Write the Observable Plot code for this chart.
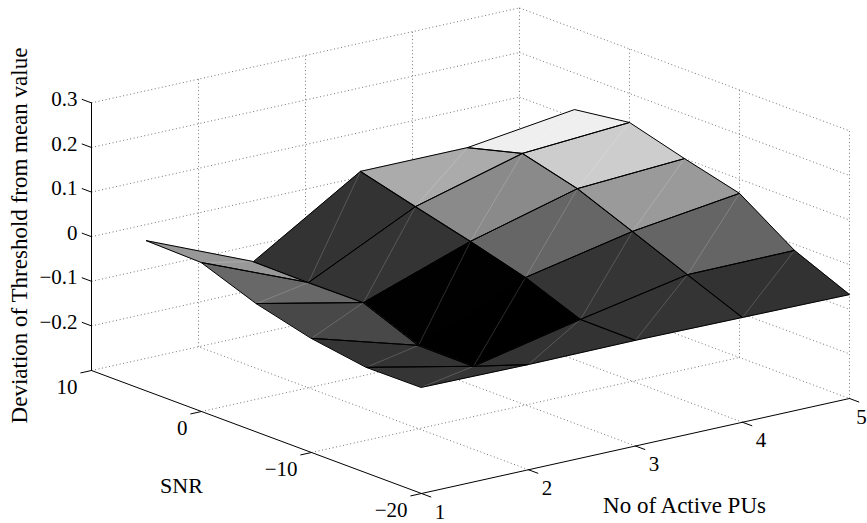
<!DOCTYPE html>
<html>
<head>
<meta charset="utf-8">
<style>html,body{margin:0;padding:0;background:#fff}svg{display:block}</style>
<script src="https://cdn.jsdelivr.net/npm/d3@7"></script>
<script src="https://cdn.jsdelivr.net/npm/@observablehq/plot@0.6"></script>
</head>
<body>
<div id="chart"></div>
<script>
// Axis values
const puCounts = [1, 2, 3, 4, 5];
const snrLevels = [-20, -15, -10, -5, 0, 5];
const xTicks = [1, 2, 3, 4, 5];
const yTicks = [10, 0, -10, -20];
const zTicks = [-0.2, -0.1, 0, 0.1, 0.2, 0.3];
const xTickLabels = ["1", "2", "3", "4", "5"];
const yTickLabels = ["10", "0", "−10", "−20"];
const zTickLabels = ["−0.2", "−0.1", "0", "0.1", "0.2", "0.3"];

// Deviation of threshold, one list per SNR level, values for PUs 1..5
const devSnrM20 = [-0.062, -0.064, -0.063, -0.065, -0.067];
const devSnrM15 = [-0.063, -0.114, -0.062, -0.015, -0.014];
const devSnrM10 = [-0.044, -0.113, -0.014, 0.036, 0.068];
const devSnrM5 = [-0.012, -0.063, 0.021, 0.086, 0.100];
const devSnr0 = [0.034, -0.064, 0.053, 0.119, 0.135];
const devSnr5 = [0.037, -0.063, 0.086, 0.086, 0.118];
const deviation = [devSnrM20, devSnrM15, devSnrM10, devSnrM5, devSnr0, devSnr5];

// Axis box of the 3D view
const xLim = [1, 5], yLim = [-20, 10], zLim = [-0.3, 0.3];

// Orthographic view: data (x, y, z) to the flat plane of the picture
function view(x, y, z) {
  return {
    u: 421 + 107 * (x - 1) - 11 * (y + 20),
    v: 493 - 23.75 * (x - 1) - 4.1 * (y + 20) - 446 * (z + 0.3)
  };
}
const seg = (id, a, b) => [{id, ...view(...a)}, {id, ...view(...b)}];

// Surface facets: colour comes from the facet's lowest x / lowest y corner
const facets = [], seams = [];
for (let j = snrLevels.length - 2; j >= 0; j--) {
  for (let i = puCounts.length - 2; i >= 0; i--) {
    const id = `${i}-${j}`;
    const c = deviation[j][i];
    const corner = (a, b) => ({id, c, ...view(puCounts[a], snrLevels[b], deviation[b][a])});
    facets.push(corner(i, j), corner(i + 1, j), corner(i + 1, j + 1), corner(i, j + 1));
    seams.push(corner(i, j), corner(i + 1, j + 1));
  }
}

// Dotted grid on the floor and two back walls
const grid = [];
const [x0, x1] = xLim, [y0, y1] = yLim, [z0, z1] = zLim;
for (const x of [2, 3, 4]) {
  grid.push(...seg(`fx${x}`, [x, y0, z0], [x, y1, z0]));
  grid.push(...seg(`wx${x}`, [x, y1, z0], [x, y1, z1]));
}
for (const y of [-10, 0]) {
  grid.push(...seg(`fy${y}`, [x0, y, z0], [x1, y, z0]));
  grid.push(...seg(`wy${y}`, [x1, y, z0], [x1, y, z1]));
}
zTicks.forEach(z => {
  grid.push(...seg(`za${z}`, [x0, y1, z], [x1, y1, z]));
  grid.push(...seg(`zb${z}`, [x1, y1, z], [x1, y0, z]));
});
grid.push(...seg("b1", [x0, y1, z0], [x1, y1, z0]));
grid.push(...seg("b2", [x1, y1, z0], [x1, y0, z0]));
grid.push(...seg("b3", [x1, y1, z0], [x1, y1, z1]));
grid.push(...seg("b4", [x1, y0, z0], [x1, y0, z1]));

// Solid axes and ticks
const axes = [
  ...seg("ax", [x0, y0, z0], [x1, y0, z0]),
  ...seg("ay", [x0, y0, z0], [x0, y1, z0]),
  ...seg("az", [x0, y1, z0], [x0, y1, z1])
];
xTicks.forEach(x => axes.push(...seg(`tx${x}`, [x, y0, z0], [x, y0 - 0.85, z0])));
yTicks.forEach(y => axes.push(...seg(`ty${y}`, [x0, y, z0], [x0 - 0.1, y, z0])));
zTicks.forEach(z => axes.push(...seg(`tz${z}`, [x0, y1, z], [x0, y1 + 0.85, z])));

// Text
const serif = {fontFamily: "'Liberation Serif','Times New Roman',serif", fill: "#000", lineAnchor: "bottom"};
const xTickText = xTicks.map((x, i) => {
  const p = view(x, y0, z0);
  return {t: xTickLabels[i], u: Math.min(p.u + 18.5, 861), v: p.v};
});
const yTickText = yTicks.map((y, i) => ({t: yTickLabels[i], ...view(x0, y, z0)}));
const zTickText = zTicks.map((z, i) => ({t: zTickLabels[i], ...view(x0, y1, z)}));

const chart = Plot.plot({
  width: 867, height: 523,
  margin: 0,
  style: {background: "#fff", overflow: "hidden"},
  x: {domain: [0, 867], range: [0, 867], axis: null},
  y: {domain: [0, 523], range: [0, 523], axis: null},
  color: {type: "linear", domain: [-0.114, 0.135], range: ["#000", "#fff"], legend: false},
  marks: [
    Plot.line(grid, {x: "u", y: "v", z: "id", stroke: "#666", strokeWidth: 0.9, strokeDasharray: "1,2.6", strokeLinecap: "butt"}),
    Plot.line(axes, {x: "u", y: "v", z: "id", stroke: "#000", strokeWidth: 1}),
    Plot.line(facets, {x: "u", y: "v", z: "id", fill: "c", stroke: "c", strokeWidth: 0.5, curve: "linear-closed"}),
    Plot.line(seams, {x: "u", y: "v", z: "id", stroke: "#fff", strokeOpacity: 0.3, strokeWidth: 0.6}),
    Plot.line(facets, {x: "u", y: "v", z: "id", fill: "none", stroke: "#000", strokeWidth: 1, curve: "linear-closed"}),
    Plot.text(xTickText, {x: "u", y: "v", text: "t", dy: 25, fontSize: 21, textAnchor: "middle", ...serif}),
    Plot.text(yTickText, {x: "u", y: "v", text: "t", dx: -14, dy: 23, fontSize: 21, textAnchor: "end", ...serif}),
    Plot.text(zTickText, {x: "u", y: "v", text: "t", dx: -14, dy: 3, fontSize: 21, textAnchor: "end", ...serif}),
    Plot.text(["No of Active PUs"], {x: () => 684, y: () => 512, text: d => d, fontSize: 23, textAnchor: "middle", ...serif}),
    Plot.text(["SNR"], {x: () => 181, y: () => 492, text: d => d, fontSize: 22, textAnchor: "middle", ...serif}),
    Plot.text(["Deviation of Threshold from mean value"], {x: () => 26, y: () => 235, text: d => d, fontSize: 23, rotate: -90, textAnchor: "middle", ...serif})
  ]
});
document.getElementById("chart").append(chart);
</script>
</body>
</html>
